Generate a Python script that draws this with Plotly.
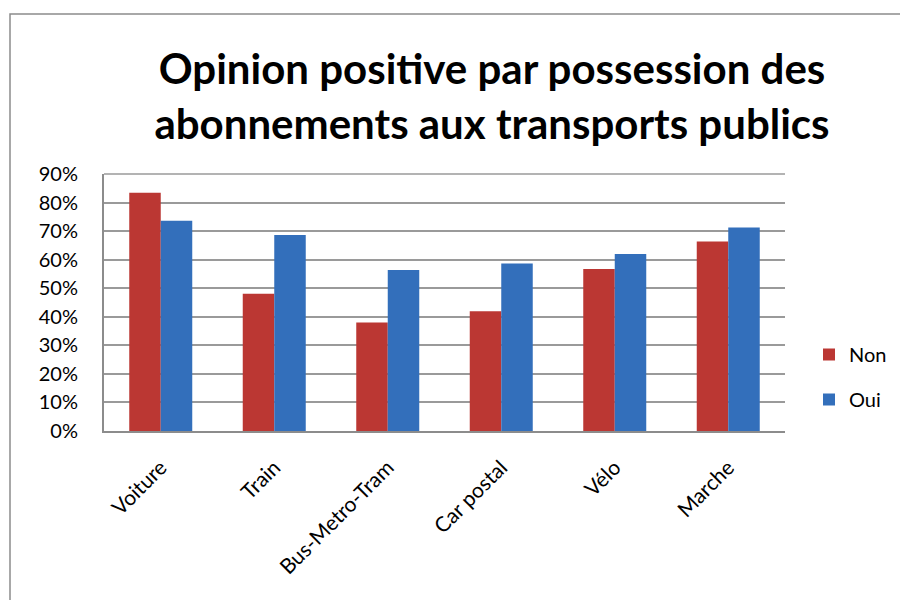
import plotly.graph_objects as go

categories = ["Voiture", "Train", "Bus-Metro-Tram", "Car postal", "Vélo", "Marche"]
non_values = [0.834, 0.481, 0.380, 0.419, 0.567, 0.664]
oui_values = [0.736, 0.686, 0.564, 0.587, 0.620, 0.713]
y_ticks = [0, 0.1, 0.2, 0.3, 0.4, 0.5, 0.6, 0.7, 0.8, 0.9]
y_tick_labels = ["0%", "10%", "20%", "30%", "40%", "50%", "60%", "70%", "80%", "90%"]

FONT = "Lato, 'Open Sans', sans-serif"

fig = go.Figure()
fig.add_trace(go.Bar(name="Non", x=categories, y=non_values, legendgroup="a",
                     marker=dict(color="#bb3733", line=dict(width=0))))
fig.add_trace(go.Bar(name="Oui", x=categories, y=oui_values, legendgroup="b",
                     marker=dict(color="#336fbb", line=dict(width=0))))

L, R, T, B = 104, 115, 174, 169
W, H = 900, 600
pw, ph = W - L - R, H - T - B

def px(x):
    return (x - L) / pw

def py(y):
    return (H - B - y) / ph

fig.update_layout(
    width=W, height=H,
    margin=dict(l=L, r=R, t=T, b=B, autoexpand=False),
    paper_bgcolor="white", plot_bgcolor="white",
    barmode="group", bargap=0.445, bargroupgap=0,
    font=dict(family=FONT, color="black"),
    title=dict(text="<b>Opinion positive par possession des<br>abonnements aux transports publics</b>",
               x=492 / W, xanchor="center", y=1 - 84 / H, yanchor="middle",
               yref="container", font=dict(size=42, family=FONT, color="black")),
    legend=dict(x=px(809), xanchor="left", y=py(377), yanchor="middle",
                font=dict(size=20, family=FONT), tracegroupgap=16,
                bgcolor="rgba(0,0,0,0)", itemwidth=30),
    xaxis=dict(showgrid=False, showline=True, linecolor="#8c8c8c", linewidth=2,
               tickangle=-45, tickfont=dict(size=21, family=FONT), ticks="",
               ticklabelstandoff=14),
    yaxis=dict(range=[0, 0.9], tickvals=y_ticks, ticktext=y_tick_labels,
               showgrid=True, gridcolor="#9a9a9a", gridwidth=1.5,
               showline=True, linecolor="#8c8c8c", linewidth=2, zeroline=False,
               ticks="", ticklabelstandoff=20, tickfont=dict(size=20, family=FONT)),
    shapes=[dict(type="path", xref="paper", yref="paper",
                 path=f"M {px(10)},{py(600)} L {px(10)},{py(14)} L {px(900)},{py(14)}",
                 line=dict(color="#8c8c8c", width=1.5)),
            dict(type="line", xref="paper", yref="paper", x0=0, x1=1, y0=1, y1=1,
                 line=dict(color="#9a9a9a", width=1.5))],
)

fig.write_html("out.html", config={"displayModeBar": False},
               post_script="document.body.style.margin='0';")
